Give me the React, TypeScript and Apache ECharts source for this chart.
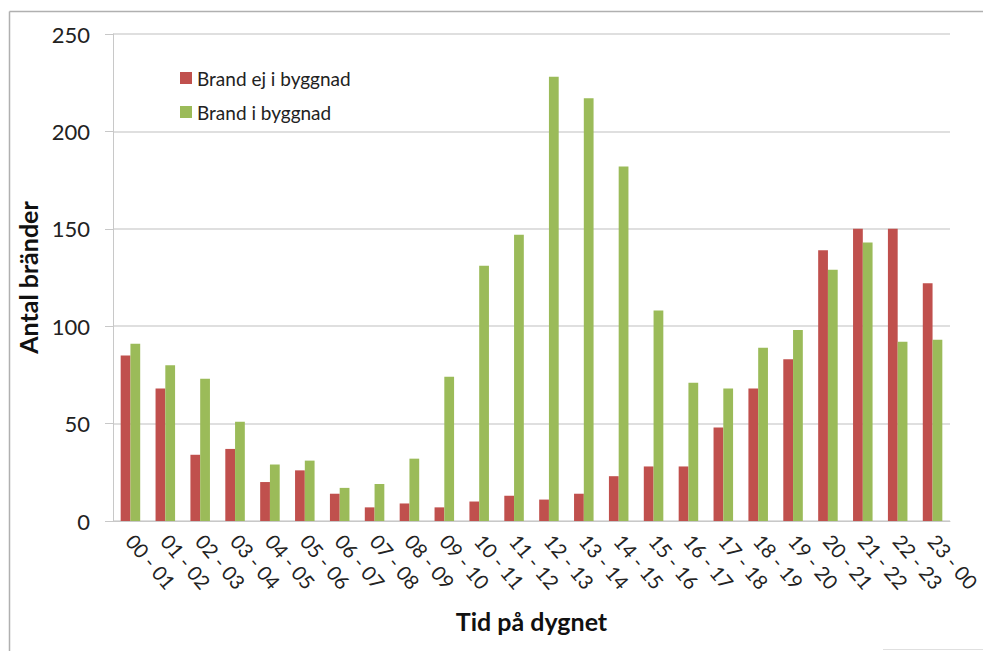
import React, { useEffect, useRef } from "react";
import * as echarts from "echarts";

const categories = [
  "00 - 01", "01 - 02", "02 - 03", "03 - 04", "04 - 05", "05 - 06",
  "06 - 07", "07 - 08", "08 - 09", "09 - 10", "10 - 11", "11 - 12",
  "12 - 13", "13 - 14", "14 - 15", "15 - 16", "16 - 17", "17 - 18",
  "18 - 19", "19 - 20", "20 - 21", "21 - 22", "22 - 23", "23 - 00",
];
const brandEjIByggnad = [85, 68, 34, 37, 20, 26, 14, 7, 9, 7, 10, 13, 11, 14, 23, 28, 28, 48, 68, 83, 139, 150, 150, 122];
const brandIByggnad = [91, 80, 73, 51, 29, 31, 17, 19, 32, 74, 131, 147, 228, 217, 182, 108, 71, 68, 89, 98, 129, 143, 92, 93];
const seriesNames = ["Brand ej i byggnad", "Brand i byggnad"];
const yAxisTitle = "Antal bränder";
const xAxisTitle = "Tid på dygnet";

const FONT = "Lato, 'Open Sans', sans-serif";

export default function App() {
  const ref = useRef<HTMLDivElement>(null);
  useEffect(() => {
    if (!ref.current) return;
    const chart = echarts.init(ref.current, undefined, { renderer: "svg" });
    chart.setOption({
      animation: false,
      backgroundColor: "#ffffff",
      textStyle: { fontFamily: FONT },
      grid: { left: 113, right: 17, top: 34, bottom: 130 },
      legend: {
        orient: "vertical",
        left: 175,
        top: 62,
        itemWidth: 12,
        itemHeight: 12,
        itemGap: 12,
        icon: "rect",
        textStyle: { fontFamily: FONT, fontSize: 19, color: "#222", lineHeight: 22 },
        data: seriesNames,
      },
      xAxis: {
        type: "category",
        data: categories,
        name: xAxisTitle,
        nameLocation: "middle",
        nameGap: 87,
        nameTextStyle: { fontFamily: FONT, fontSize: 25, fontWeight: "bold", color: "#111" },
        axisLine: { show: true, lineStyle: { color: "#c8c8c8", width: 1 } },
        axisTick: { show: false },
        axisLabel: {
          rotate: -50,
          margin: 16,
          fontFamily: FONT,
          fontSize: 20,
          color: "#222",
          interval: 0,
        },
      },
      yAxis: {
        type: "value",
        min: 0,
        max: 250,
        interval: 50,
        name: yAxisTitle,
        nameLocation: "middle",
        nameGap: 66,
        nameTextStyle: { fontFamily: FONT, fontSize: 25, fontWeight: "bold", color: "#111" },
        axisLine: { show: true, lineStyle: { color: "#c8c8c8", width: 1 } },
        axisTick: { show: true, length: 8, lineStyle: { color: "#c8c8c8" } },
        axisLabel: { margin: 23, fontFamily: FONT, fontSize: 22, color: "#222" },
        splitLine: { show: true, lineStyle: { color: "#d4d4d4", width: 1.5 } },
      },
      series: [
        {
          name: seriesNames[0],
          type: "bar",
          data: brandEjIByggnad,
          itemStyle: { color: "#C0504D" },
          barGap: "0%",
          barCategoryGap: "44%",
        },
        {
          name: seriesNames[1],
          type: "bar",
          data: brandIByggnad,
          itemStyle: { color: "#9BBB59" },
          barGap: "0%",
          barCategoryGap: "44%",
        },
      ],
      graphic: [
        { type: "line", shape: { x1: 9.5, y1: 11.5, x2: 983, y2: 11.5 }, style: { stroke: "#b0b0b0", lineWidth: 1.5 } },
        { type: "line", shape: { x1: 9.5, y1: 11.5, x2: 9.5, y2: 651 }, style: { stroke: "#b0b0b0", lineWidth: 1.5 } },
        { type: "line", shape: { x1: 883, y1: 649.5, x2: 983, y2: 649.5 }, style: { stroke: "#e0e0e0", lineWidth: 1 } },
      ],
    });
    return () => chart.dispose();
  }, []);
  return (
    <div
      ref={ref}
      style={{ position: "fixed", left: 0, top: 0, width: 983, height: 651, background: "#fff" }}
    />
  );
}
